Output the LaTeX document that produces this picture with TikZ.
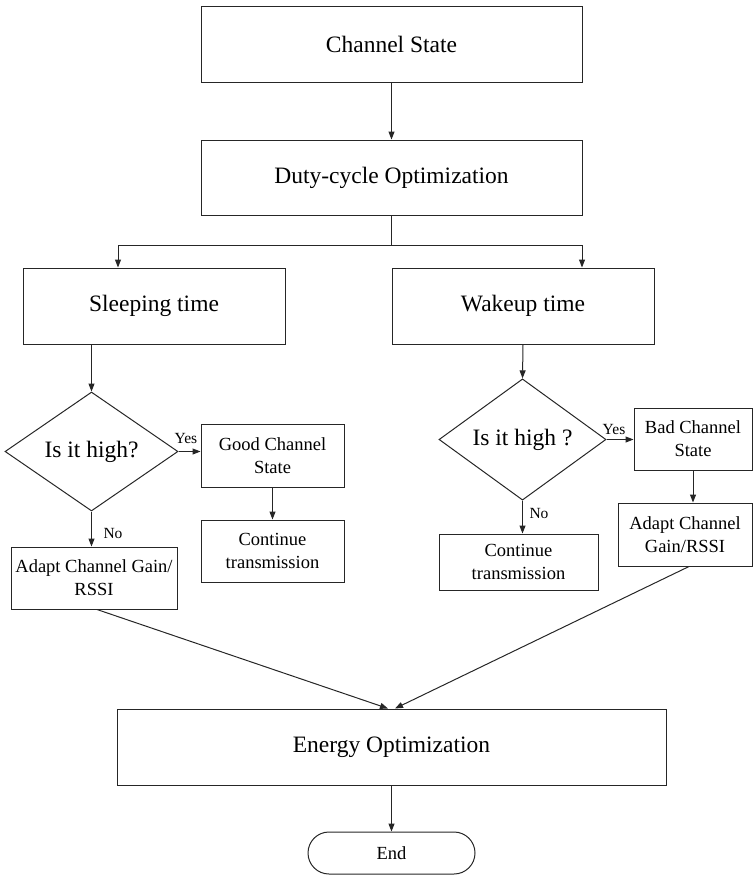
\documentclass[tikz,border=0pt]{standalone}
\usepackage{fontspec}
\setmainfont{Liberation Serif}[Ligatures=TeX]
\usetikzlibrary{shapes.geometric,arrows.meta}
\begin{document}
\begin{tikzpicture}[x=1pt,y=-1pt,
  line width=1pt,
  every node/.style={text=black},
  big/.style={font=\fontsize{23.5}{27}\selectfont},
  mid/.style={font=\fontsize{18.5}{23}\selectfont},
  lab/.style={font=\fontsize{15.5}{18}\selectfont, inner sep=0pt},
  box/.style={draw=black!85, rectangle, inner sep=0pt, align=center},
  dia/.style={draw=black!85, diamond, inner sep=0pt, align=center},
  arr/.style={draw=black!85, -{Triangle[length=8pt,width=6pt]}},
  ln/.style={draw=black!85}]
\useasboundingbox (0,0) rectangle (754,875);

\node[box,big,minimum width=381,minimum height=75] (cs) at (391.5,44.5) {Channel State};
\node[box,big,minimum width=381,minimum height=75] (duty) at (391.5,177.5) {Duty-cycle Optimization};
\node[box,big,minimum width=262,minimum height=76] (sleep) at (154,306) {Sleeping time};
\node[box,big,minimum width=262,minimum height=76] (wake) at (523,306) {Wakeup time};

\node[dia,big,minimum width=173,minimum height=119] (d1) at (91.5,451.5) {Is it high?};
\node[dia,big,minimum width=167,minimum height=117] (d2) at (522.5,439.5) {Is it high ?};

\node[box,mid,minimum width=143,minimum height=63] (good) at (272.5,455.5) {Good Channel\\State};
\node[box,mid,minimum width=143,minimum height=62] (cont1) at (272.5,551) {Continue\\transmission};
\node[box,mid,minimum width=166,minimum height=62] (adaptL) at (94,578) {Adapt Channel Gain/\\RSSI};

\node[box,mid,minimum width=118,minimum height=62] (bad) at (693,439) {Bad Channel\\State};
\node[box,mid,minimum width=134,minimum height=63] (adaptR) at (685,534.5) {Adapt Channel\\Gain/RSSI};
\node[box,mid,minimum width=159,minimum height=56] (cont2) at (518.5,562) {Continue\\transmission};

\node[box,big,minimum width=549,minimum height=76] (energy) at (391.5,747) {Energy Optimization};
\node[box,mid,minimum width=167,minimum height=42,rounded corners=21pt] (end) at (391.5,853) {End};

% connectors
\draw[arr] (cs.south) -- (duty.north);
\coordinate (br) at (391.5,245);
\coordinate (bl) at (118,245);
\coordinate (brr) at (582,245);
\draw[ln] (duty.south) -- (br);
\draw[arr] (br) -- (bl) -- (bl |- sleep.north);
\draw[arr] (br) -- (brr) -- (brr |- wake.north);

\draw[arr] (d1.north |- sleep.south) -- (d1.north);
\draw[arr] (wake.south) -- (d2.north);

\draw[arr] (d1.east) -- (d1.east -| good.west);
\draw[arr] (good.south) -- (cont1.north);
\draw[arr] (d1.south) -- (d1.south |- adaptL.north);

\draw[arr] (d2.east) -- (d2.east -| bad.west);
\draw[arr] (bad.south) -- (bad.south |- adaptR.north);
\draw[arr] (d2.south) -- (d2.south |- cont2.north);

\draw[arr] ([xshift=3pt]adaptL.south) -- ([xshift=-3.5pt]energy.north);
\draw[arr] ([xshift=4pt]adaptR.south) -- ([xshift=3.5pt]energy.north);
\draw[arr] (energy.south) -- (end.north);

% labels
\node[lab] (yes1) at (186,438) {Yes};
\node[lab] (yes2) at (614,429) {Yes};
\node[lab] (no1) at (113,533) {No};
\node[lab] (no2) at (539,513) {No};
\end{tikzpicture}
\end{document}
